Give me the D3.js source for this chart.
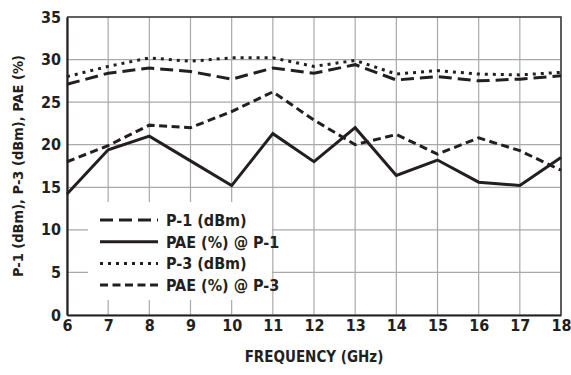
<!DOCTYPE html>
<html>
<head>
<meta charset="utf-8">
<script src="https://cdn.jsdelivr.net/npm/d3@7"></script>
<style>
  body { margin: 0; background: #fff; }
  svg text { font-family: "DejaVu Sans Condensed", "DejaVu Sans", sans-serif; font-stretch: condensed; font-weight: bold; fill: #231f20; }
</style>
</head>
<body>
<svg id="chart" width="571" height="375"></svg>
<script>
// frequency points (GHz)
var freq = [6, 7, 8, 9, 10, 11, 12, 13, 14, 15, 16, 17, 18];

var p1 = [27.1, 28.4, 29.0, 28.6, 27.7, 29.0, 28.4, 29.4, 27.6, 28.0, 27.5, 27.7, 28.1];
var paeP1 = [14.2, 19.4, 21.0, 18.1, 15.2, 21.3, 18.0, 22.0, 16.4, 18.2, 15.6, 15.2, 18.5];
var p3 = [28.0, 29.2, 30.2, 29.8, 30.2, 30.2, 29.2, 29.9, 28.3, 28.7, 28.3, 28.2, 28.5];
var paeP3 = [18.0, 19.9, 22.3, 22.0, 23.9, 26.2, 22.9, 20.0, 21.2, 18.9, 20.8, 19.3, 17.0];

var xTicks = [6, 7, 8, 9, 10, 11, 12, 13, 14, 15, 16, 17, 18];
var yTicks = [0, 5, 10, 15, 20, 25, 30, 35];

var series = [
    { name: 'P-1 (dBm)', values: p1, dash: '13,6' },
    { name: 'PAE (%) @ P-1', values: paeP1, dash: null },
    { name: 'P-3 (dBm)', values: p3, dash: '3,5' },
    { name: 'PAE (%) @ P-3', values: paeP3, dash: '8,4.5' }
];

function drawChart() {
    var svg = d3.select('#chart');
    var mLeft = 67, mRight = 561, mTop = 17, mBottom = 315;

    var x = d3.scaleLinear().domain([6, 18]).range([mLeft, mRight]);
    var y = d3.scaleLinear().domain([0, 35]).range([mBottom, mTop]);

    // grid
    var grid = svg.append('g').attr('stroke', '#a7a9ac').attr('stroke-width', 1.2);
    grid.selectAll('.vx').data(xTicks).enter().append('line')
        .attr('x1', function (d) { return x(d); }).attr('x2', function (d) { return x(d); })
        .attr('y1', mTop).attr('y2', mBottom);
    grid.selectAll('.hy').data(yTicks).enter().append('line')
        .attr('x1', mLeft).attr('x2', mRight)
        .attr('y1', function (d) { return y(d); }).attr('y2', function (d) { return y(d); });

    // legend background hides grid
    svg.append('rect').attr('x', 88).attr('y', 202).attr('width', 184).attr('height', 98).attr('fill', '#fff');

    // top and right frame
    svg.append('path')
        .attr('d', 'M' + mLeft + ',' + mTop + 'H' + mRight + 'V' + mBottom)
        .attr('fill', 'none').attr('stroke', '#3a3a3c').attr('stroke-width', 1.5);

    var line = d3.line()
        .x(function (d, i) { return x(freq[i]); })
        .y(function (d) { return y(d); });

    svg.selectAll('.series').data(series).enter().append('path')
        .attr('d', function (s) { return line(s.values); })
        .attr('fill', 'none')
        .attr('stroke', '#231f20')
        .attr('stroke-width', 3)
        .attr('stroke-dasharray', function (s) { return s.dash; });

    // axes
    var xAxis = svg.append('g').attr('transform', 'translate(0,' + mBottom + ')')
        .call(d3.axisBottom(x).tickValues(xTicks).tickSize(0).tickPadding(5).tickFormat(d3.format('d')));
    var yAxis = svg.append('g').attr('transform', 'translate(' + mLeft + ',0)')
        .call(d3.axisLeft(y).tickValues(yTicks).tickSize(0).tickPadding(6));
    [xAxis, yAxis].forEach(function (a) {
        a.select('.domain').attr('stroke', '#231f20').attr('stroke-width', 2.2);
        a.selectAll('text').attr('font-size', 16).attr('font-family', null).attr('fill', '#231f20');
    });

    // legend
    var leg = svg.append('g');
    series.forEach(function (s, i) {
        var ly = 220 + i * 21.7;
        leg.append('line').attr('x1', 100).attr('x2', 158).attr('y1', ly).attr('y2', ly)
            .attr('stroke', '#231f20').attr('stroke-width', 3)
            .attr('stroke-dasharray', s.dash);
        leg.append('text').attr('x', 166).attr('y', ly + 6).attr('font-size', 16).text(s.name);
    });

    // axis titles
    svg.append('text').attr('x', (mLeft + mRight) / 2).attr('y', 362).attr('text-anchor', 'middle')
        .attr('font-size', 15).text('FREQUENCY (GHz)');
    svg.append('text').attr('transform', 'translate(23,' + ((mTop + mBottom) / 2) + ') rotate(-90)')
        .attr('text-anchor', 'middle').attr('font-size', 14.5).text('P-1 (dBm), P-3 (dBm), PAE (%)');
}

drawChart();
</script>
</body>
</html>
